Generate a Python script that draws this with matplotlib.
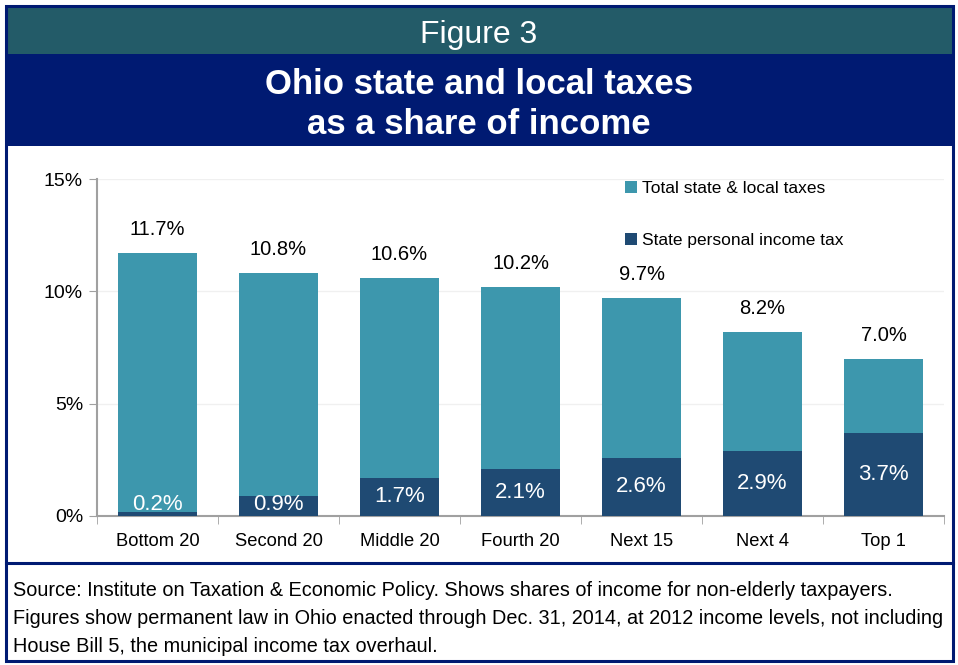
import matplotlib.pyplot as plt
from matplotlib.patches import Rectangle
from matplotlib.lines import Line2D

plt.rcParams['font.family'] = ['Liberation Sans', 'DejaVu Sans']

groups = ["Bottom 20", "Second 20", "Middle 20", "Fourth 20", "Next 15", "Next 4", "Top 1"]
total_tax = [11.7, 10.8, 10.6, 10.2, 9.7, 8.2, 7.0]
income_tax = [0.2, 0.9, 1.7, 2.1, 2.6, 2.9, 3.7]
yticks = [0, 5, 10, 15]

TEAL = "#3d97ad"
DARK = "#1f4a73"
W, H = 958, 665

fig = plt.figure(figsize=(W / 100, H / 100), dpi=100)


def fx(x):
    return x / W


def fy(y):
    return 1 - y / H


# frame and header bands
fig.patches.append(Rectangle((fx(8), fy(54)), fx(945), 46 / H, transform=fig.transFigure,
                             facecolor="#235b68", edgecolor="none"))
fig.patches.append(Rectangle((fx(8), fy(146)), fx(945), 92 / H, transform=fig.transFigure,
                             facecolor="#001a72", edgecolor="none"))
fig.patches.append(Rectangle((fx(6), fy(661)), fx(947), 655 / H, transform=fig.transFigure,
                             facecolor="none", edgecolor="#001a72", linewidth=2.2))
fig.lines.append(Line2D([fx(6), fx(953)], [fy(563), fy(563)], transform=fig.transFigure,
                        color="#001a72", linewidth=2.2))

fig.text(0.5, fy(35), "Figure 3", color="white", fontsize=23, ha="center", va="center")
fig.text(0.5, fy(84), "Ohio state and local taxes", color="white", fontsize=25,
         fontweight="bold", ha="center", va="center")
fig.text(0.5, fy(124), "as a share of income", color="white", fontsize=25,
         fontweight="bold", ha="center", va="center")

footer = ["Source: Institute on Taxation & Economic Policy. Shows shares of income for non-elderly taxpayers.",
          "Figures show permanent law in Ohio enacted through Dec. 31, 2014, at 2012 income levels, not including",
          "House Bill 5, the municipal income tax overhaul."]
for i, line in enumerate(footer):
    fig.text(fx(13), fy(591 + i * 27.5), line, fontsize=14.3, ha="left", va="center")

# chart
ax = fig.add_axes([fx(97), fy(516), (944 - 97) / W, (516 - 179) / H])
x = range(len(groups))
ax.bar(x, total_tax, width=0.65, color=TEAL, label="Total state & local taxes", zorder=2)
ax.bar(x, income_tax, width=0.65, color=DARK, label="State personal income tax", zorder=3)

for i, (t, p) in enumerate(zip(total_tax, income_tax)):
    ax.text(i, t + 1.05, f"{t:.1f}%", ha="center", va="center", fontsize=14.5)
    ax.text(i, max(p / 2, 0.5), f"{p:.1f}%", ha="center", va="center", fontsize=16,
            color="white", zorder=4)

ax.set_xlim(-0.5, len(groups) - 0.5)
ax.set_ylim(0, 15)
ax.set_yticks(yticks)
ax.set_yticklabels([f"{v}%" for v in yticks], fontsize=14)
ax.set_xticks(list(x))
ax.set_xticklabels(groups, fontsize=13.2)
ax.set_xticks([i - 0.5 for i in range(len(groups) + 1)], minor=True)
ax.tick_params(axis="x", which="major", length=0, pad=12)
ax.tick_params(axis="x", which="minor", length=6, color="#a0a0a0", direction="out")
ax.tick_params(axis="y", length=6, color="#a0a0a0", pad=4)
ax.yaxis.grid(True, color="#f0f0f0", linewidth=1, zorder=0)
for s in ["top", "right"]:
    ax.spines[s].set_visible(False)
for s in ["left", "bottom"]:
    ax.spines[s].set_color("#a0a0a0")
    ax.spines[s].set_linewidth(1.5)

ax.legend(loc="upper left", bbox_to_anchor=(0.605, 1.04), frameon=False, fontsize=12.5,
          handlelength=0.7, handleheight=0.7, handletextpad=0.3, labelspacing=2.1)

fig.savefig("out.png", dpi=100)
